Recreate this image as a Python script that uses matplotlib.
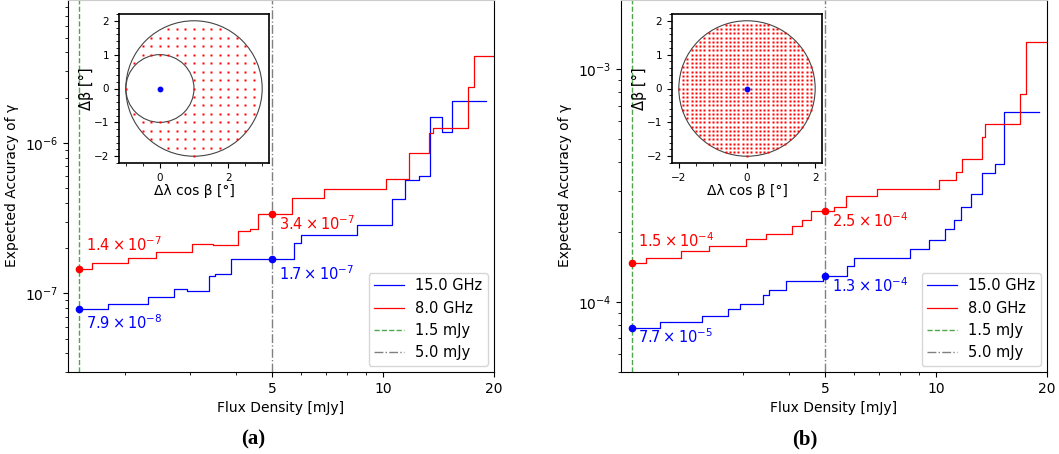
import numpy as np
import matplotlib
matplotlib.use('Agg')
import matplotlib.pyplot as plt
from matplotlib.ticker import MultipleLocator, AutoMinorLocator, NullFormatter, FixedLocator

##########
### Datos
# panel (a)
a_x_15 = [1.5, 1.80, 2.31, 2.72, 2.95, 3.38, 3.50, 3.88, 5.74, 5.98, 8.53, 10.6, 11.5, 12.5, 13.4, 14.5, 15.4, 19.0]
a_y_15 = [7.9e-8, 8.5e-8, 9.4e-8, 1.07e-7, 1.04e-7, 1.30e-7, 1.35e-7, 1.68e-7, 2.16e-7, 2.43e-7, 2.86e-7,
          4.27e-7, 5.66e-7, 6.05e-7, 1.48e-6, 1.18e-6, 1.91e-6, 1.91e-6]
a_x_8 = [1.5, 1.63, 2.04, 2.42, 3.04, 3.46, 4.05, 4.36, 4.59, 5.67, 6.90, 10.2, 11.75, 13.34, 13.7, 17.0, 17.7, 20.0]
a_y_8 = [1.45e-7, 1.59e-7, 1.72e-7, 1.88e-7, 2.14e-7, 2.09e-7, 2.60e-7, 2.68e-7, 3.38e-7, 4.34e-7, 4.91e-7,
         5.72e-7, 8.53e-7, 1.16e-6, 1.25e-6, 2.34e-6, 3.79e-6, 3.79e-6]
a_marks = {'15': [(1.5, 7.9e-8, '7.9', -8), (5.0, 1.68e-7, '1.7', -7)],
           '8': [(1.5, 1.45e-7, '1.4', -7), (5.0, 3.38e-7, '3.4', -7)]}
a_ylim = (3e-8, 9e-6)

# panel (b)
b_x_15 = [1.5, 1.79, 2.32, 2.73, 2.95, 3.39, 3.52, 3.92, 4.95, 5.74, 6.01, 8.52, 9.6, 10.6, 11.2, 11.7, 12.46,
          13.3, 14.44, 15.3, 19.0]
b_y_15 = [7.73e-5, 8.23e-5, 8.73e-5, 9.33e-5, 9.8e-5, 1.07e-4, 1.13e-4, 1.235e-4, 1.30e-4, 1.43e-4, 1.54e-4,
          1.69e-4, 1.84e-4, 2.06e-4, 2.25e-4, 2.56e-4, 2.92e-4, 3.58e-4, 3.93e-4, 6.57e-4, 6.57e-4]
b_x_8 = [1.5, 1.64, 2.04, 2.43, 3.05, 3.47, 4.07, 4.34, 4.57, 5.29, 5.71, 6.93, 10.2, 11.3, 11.8, 13.3, 13.6,
         16.9, 17.5, 20.0]
b_y_8 = [1.47e-4, 1.55e-4, 1.65e-4, 1.74e-4, 1.87e-4, 1.97e-4, 2.13e-4, 2.25e-4, 2.46e-4, 2.57e-4, 2.86e-4,
         3.07e-4, 3.35e-4, 3.64e-4, 4.11e-4, 5.11e-4, 5.82e-4, 7.83e-4, 1.315e-3, 1.315e-3]
b_marks = {'15': [(1.5, 7.73e-5, '7.7', -5), (5.0, 1.30e-4, '1.3', -4)],
           '8': [(1.5, 1.47e-4, '1.5', -4), (5.0, 2.46e-4, '2.5', -4)]}
b_ylim = (5e-5, 2e-3)

flux_lines = [1.5, 5.0]
xlim = (1.4, 20)
xticks = [5, 10, 20]

# offsets de las etiquetas (pixeles)
a_offsets = {('15', 0): (7, -20), ('15', 1): (7, -21), ('8', 0): (7, 18), ('8', 1): (7, -16)}
b_offsets = {('15', 0): (6, -15), ('15', 1): (7, -16), ('8', 0): (6, 16), ('8', 1): (7, -16)}

# mallas de los recuadros
a_grid = dict(step=0.25, xr=(-1, 3), yr=(-2, 2), center=(1, 0), r_out=2, r_in=1)
b_grid = dict(step=0.125, xr=(-2, 2), yr=(-2, 2), center=(0, 0), r_out=2, r_in=0)
##########

W, H = 1059, 454
fig = plt.figure(figsize=(W / 100, H / 100), dpi=100)


def make_grid(g):
    xs = np.arange(g['xr'][0], g['xr'][1], g['step'])
    ys = np.arange(g['yr'][0], g['yr'][1], g['step'])
    X, Y = np.meshgrid(xs, ys)
    cx, cy = g['center']
    keep = ((X - cx) ** 2 + (Y - cy) ** 2 <= g['r_out'] ** 2 + 1e-9) & (X ** 2 + Y ** 2 >= g['r_in'] ** 2 - 1e-9)
    return X[keep], Y[keep]


def panel(left_px, x15, y15, x8, y8, marks, offsets, ylim, grid, inset_left_px, inset_xlim, caption, cap_px):
    ax = fig.add_axes([left_px / W, (H - 372) / H, 426 / W, 372.5 / H])
    ax.plot(x15, y15, color='blue', lw=0.9, drawstyle='steps-post', label='15.0 GHz')
    ax.plot(x8, y8, color='red', lw=0.9, drawstyle='steps-post', label='8.0 GHz')
    ax.axvline(flux_lines[0], color='green', ls='--', lw=1.0, alpha=0.7, label='1.5 mJy')
    ax.axvline(flux_lines[1], color='gray', ls='-.', lw=1.0, label='5.0 mJy')
    for key, col in (('15', 'blue'), ('8', 'red')):
        for i, (fx, fy, mant, ex) in enumerate(marks[key]):
            ax.plot(fx, fy, 'o', color=col, ms=4.5)
            ax.annotate(r'$%s\times10^{%d}$' % (mant, ex), (fx, fy), xytext=offsets[(key, i)],
                        textcoords='offset pixels', color=col, fontsize=10.5, ha='left', va='baseline')
    ax.set_xscale('log')
    ax.set_yscale('log')
    ax.set_xlim(*xlim)
    ax.set_ylim(*ylim)
    ax.xaxis.set_major_locator(FixedLocator(xticks))
    ax.set_xticklabels([str(t) for t in xticks])
    ax.xaxis.set_minor_formatter(NullFormatter())
    ax.spines['top'].set_color('#cccccc')
    ax.tick_params(labelsize=10)
    ax.set_xlabel('Flux Density [mJy]', fontsize=10)
    ax.set_ylabel('Expected Accuracy of γ', fontsize=10)
    ax.legend(loc='lower right', fontsize=10.5, borderaxespad=0.4)

    ins = fig.add_axes([inset_left_px / W, (H - 163) / H, 150 / W, 149 / H])
    gx, gy = make_grid(grid)
    ins.plot(gx, gy, 's', color='#ff0000', ms=1.6, mec='none')
    cx, cy = grid['center']
    ins.add_patch(plt.Circle((cx, cy), grid['r_out'], fill=False, ec='#444444', lw=0.8))
    if grid['r_in'] > 0:
        ins.add_patch(plt.Circle((0, 0), grid['r_in'], fill=False, ec='#444444', lw=0.8))
    ins.plot(0, 0, 'o', color='blue', ms=3.2)
    ins.set_xlim(*inset_xlim)
    ins.set_ylim(-2.2, 2.2)
    ins.xaxis.set_major_locator(MultipleLocator(2))
    ins.xaxis.set_minor_locator(AutoMinorLocator())
    ins.yaxis.set_major_locator(MultipleLocator(1))
    ins.yaxis.set_minor_locator(AutoMinorLocator())
    ins.tick_params(labelsize=7.5)
    for s in ins.spines.values():
        s.set_linewidth(1.2)
    ins.set_xlabel('Δλ cos β [°]', fontsize=10, labelpad=1)
    ins.set_ylabel('Δβ [°]', fontsize=10.5, labelpad=0)

    fig.text(cap_px / W, 1 - 439 / H, caption, ha='center', va='center', fontsize=15,
             fontweight='bold', family='Liberation Serif')


panel(68, a_x_15, a_y_15, a_x_8, a_y_8, a_marks, a_offsets, a_ylim, a_grid, 119, (-1.2, 3.2), '(a)', 253)
panel(621, b_x_15, b_y_15, b_x_8, b_y_8, b_marks, b_offsets, b_ylim, b_grid, 672, (-2.2, 2.2), '(b)', 805)

fig.savefig('out.png', dpi=100)
